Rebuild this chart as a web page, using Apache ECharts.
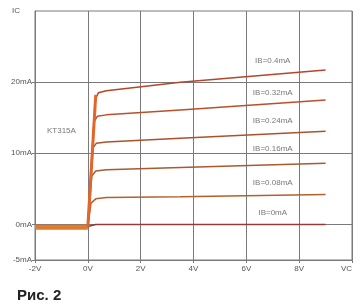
<!DOCTYPE html>
<html><head><meta charset="utf-8">
<script src="https://cdn.jsdelivr.net/npm/echarts@6/dist/echarts.min.js"></script>
<style>html,body{margin:0;padding:0;background:#fff}#c{width:362px;height:305px}</style>
</head><body><div id="c"></div>
<script>
// X ticks (V) and labels
const xTicks = [-2, 0, 2, 4, 6, 8, 10];
const xTickLabels = ['-2V', '0V', '2V', '4V', '6V', '8V', 'VC'];
// Y labelled values (mA) and labels
const yTicks = [-5, 0, 10, 20, 30];
const yTickLabels = ['-5mA', '0mA', '10mA', '20mA', 'IC'];
const yGridLines = [0, 10, 20];

// Output characteristic curves: [Vce (V), Ic (mA)]
const curveIB04  = [[-2,-0.3],[0,-0.3],[0.28,17.6],[0.4,18.5],[0.7,18.8],[3.5,20.0],[9,21.7]];
const curveIB032 = [[-2,-0.3],[0,-0.3],[0.24,14.5],[0.36,15.2],[0.7,15.4],[3.5,16.1],[9,17.5]];
const curveIB024 = [[-2,-0.3],[0,-0.3],[0.2,10.8],[0.32,11.4],[0.7,11.6],[3.5,12.1],[9,13.1]];
const curveIB016 = [[-2,-0.3],[0,-0.3],[0.15,6.8],[0.3,7.5],[0.7,7.7],[3.5,8.0],[9,8.6]];
const curveIB008 = [[-2,-0.3],[0,-0.3],[0.12,3.0],[0.3,3.6],[0.7,3.8],[3.5,3.9],[9,4.2]];
const curveIB0   = [[-2,-0.3],[0,-0.3],[0.3,0],[9,0]];
// Overlapping common part of all curves
const commonFlat = [[-2,-0.4],[0,-0.4]];
const commonRise = [[0,-0.3],[0.3,18.2]];

// Curve labels
const curveNames = ['IB=0.4mA','IB=0.32mA','IB=0.24mA','IB=0.16mA','IB=0.08mA','IB=0mA'];
const curveLabelAnchors = [[7.0,23.0],[7.0,18.5],[7.0,14.5],[7.0,10.6],[7.0,5.9],[7.0,1.7]];
const deviceName = 'KT315A';
const deviceAnchor = [-1.0, 13.2];

const curves = [curveIB04, curveIB032, curveIB024, curveIB016, curveIB008, curveIB0];
const curveColors = ['#b4472a','#b8502c','#a9532e','#a85a30','#b4602c','#8c3c3a'];

const font = 'Liberation Sans, Arial, sans-serif';
const chart = echarts.init(document.getElementById('c'));

const series = [];
curves.forEach((c, i) => series.push({type:'line', data:c, showSymbol:false, silent:true,
  lineStyle:{color:curveColors[i], width:1.5}, z:3}));
series.push({type:'line', data: commonFlat, showSymbol:false, silent:true,
  lineStyle:{color:'#e27a2c', width:5}, z:6,
  markLine:{silent:true, symbol:'none', label:{show:false}, z:1,
    lineStyle:{color:'#7a7a7a', width:1, type:'solid'},
    data: yGridLines.map(v => ({yAxis: v}))}});
series.push({type:'line', data: commonRise, showSymbol:false, silent:true,
  lineStyle:{color:'#e2652a', width:3}, z:6});
series.push({type:'scatter', symbolSize:0, silent:true, z:7,
  data: curveLabelAnchors.map((p,i)=>({value:p, name:curveNames[i]})),
  label:{show:true, position:'inside', formatter:p=>p.name, color:'#555', fontSize:8, fontFamily:font}});
series.push({type:'scatter', symbolSize:0, silent:true, z:7,
  data:[{value:deviceAnchor, name:deviceName}],
  label:{show:true, position:'inside', formatter:p=>p.name, color:'#555', fontSize:8, fontFamily:font}});

chart.setOption({
  animation:false,
  backgroundColor:'#fff',
  title:{text:'Рис. 2', left:12, top:283, textStyle:{fontSize:15, fontWeight:'bold', color:'#222', fontFamily:font}},
  grid:{left:35, right:10, top:11, bottom:45, show:true, borderColor:'#7a7a7a', borderWidth:1, backgroundColor:'#fff'},
  xAxis:{type:'value', min:-2, max:10, interval:2,
    axisLine:{show:true, onZero:false, lineStyle:{color:'#7a7a7a'}},
    axisTick:{show:true, length:3, lineStyle:{color:'#7a7a7a'}},
    splitLine:{show:true, lineStyle:{color:'#7a7a7a', width:1}},
    axisLabel:{color:'#555', fontSize:8, fontFamily:font, margin:5,
      formatter:v=>{const k=xTicks.indexOf(v); return k>=0?xTickLabels[k]:'';},
      alignMaxLabel:'right'}},
  yAxis:{type:'value', min:-5, max:30, interval:5,
    axisLine:{show:true, onZero:false, lineStyle:{color:'#7a7a7a'}},
    axisTick:{show:true, length:3, lineStyle:{color:'#7a7a7a'},
      customValues: yTicks.slice(0,4)},
    splitLine:{show:false},
    axisLabel:{color:'#555', fontSize:8, fontFamily:font, margin:3,
      customValues: yTicks,
      formatter:v=>{const k=yTicks.indexOf(v); if(k<0) return ''; return v===30?'{ic|'+yTickLabels[k]+'}':yTickLabels[k];},
      rich:{ic:{color:'#555', fontSize:8, fontFamily:font, padding:[0,12,0,0]}}}},
  series
});
</script></body></html>
